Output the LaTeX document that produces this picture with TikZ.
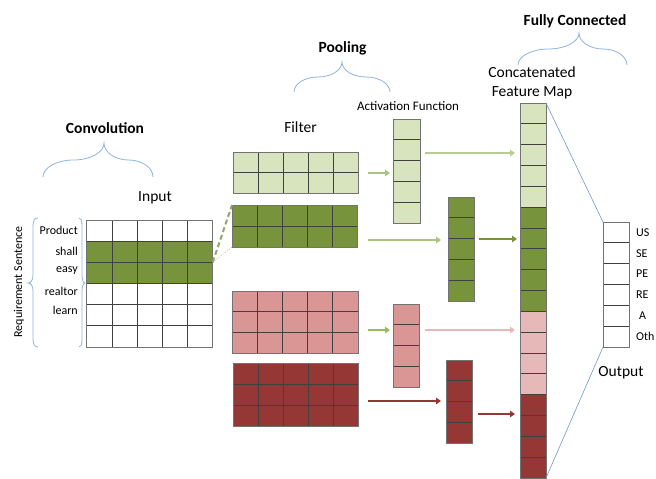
\documentclass[tikz,border=0pt]{standalone}
\usepackage{fontspec}
\setmainfont{Carlito}
\usetikzlibrary{calc,arrows.meta}
\definecolor{lg}{HTML}{D7E4BD}
\definecolor{dg}{HTML}{77933C}
\definecolor{pk}{HTML}{D99694}
\definecolor{lpk}{HTML}{E6B9B8}
\definecolor{dr}{HTML}{953735}
\definecolor{arg}{HTML}{A9C47F}
\definecolor{mg}{HTML}{9BBB59}
\definecolor{brcol}{HTML}{8DB3E2}
\definecolor{bln}{HTML}{6F97CD}
\tikzset{
  mat/.style={inner sep=0pt, outer sep=0pt, draw=none},
  innerln/.style={draw=black!75, line width=0.7pt},
  borderln/.style={draw=black!55, line width=0.8pt},
  brc/.style={draw=brcol, line width=0.8pt},
  head/.style={font=\fontsize{15.5}{18}\selectfont\bfseries},
  lbl/.style={font=\fontsize{15.5}{19.5}\selectfont, align=center},
  small/.style={font=\fontsize{12}{14}\selectfont, inner sep=0pt},
  arr/.style={line width=2pt, -{Triangle[length=5pt,width=6.5pt]}},
}
\newcommand\mgrid[3]{%
  \pgfmathtruncatemacro\mgc{#2-1}%
  \pgfmathtruncatemacro\mgr{#3-1}%
  \ifnum\mgc>0 \foreach \i in {1,...,\mgc}{\draw[innerln] ($(#1.north west)!\i/#2!(#1.north east)$) -- ($(#1.south west)!\i/#2!(#1.south east)$);}\fi
  \ifnum\mgr>0 \foreach \i in {1,...,\mgr}{\draw[innerln] ($(#1.north west)!\i/#3!(#1.south west)$) -- ($(#1.north east)!\i/#3!(#1.south east)$);}\fi
  \draw[borderln] (#1.north west) rectangle (#1.south east);
}
\newcommand\hbrace[5]{%
  \pgfmathsetmacro\hbym{(#4+#5)/2}%
  \pgfmathsetmacro\hbqa{(#1+#2)/2}%
  \pgfmathsetmacro\hbqb{(#2+#3)/2}%
  \draw[brc] (#1,#4) .. controls (#1,{#4-0.55*(#4-\hbym)}) and ({\hbqa-0.55*(\hbqa-#1)},\hbym) .. (\hbqa,\hbym)
    .. controls ({\hbqa+0.55*(#2-\hbqa)},\hbym) and (#2,{#5+0.55*(\hbym-#5)}) .. (#2,#5)
    .. controls (#2,{#5+0.55*(\hbym-#5)}) and ({\hbqb-0.55*(\hbqb-#2)},\hbym) .. (\hbqb,\hbym)
    .. controls ({\hbqb+0.55*(#3-\hbqb)},\hbym) and (#3,{#4-0.55*(#4-\hbym)}) .. (#3,#4);
}
\begin{document}
\begin{tikzpicture}[x=1pt,y=-1pt]
\useasboundingbox (0,0) rectangle (656,479);

% headings and braces
\node[head] (hconv) at (105,128) {Convolution};
\node[head] (hpool) at (342.5,48) {Pooling};
\node[head] (hfc) at (575,21) {Fully Connected};
\hbrace{43}{104}{153}{177}{143}
\hbrace{294}{342}{390}{92}{62}
\hbrace{518}{579}{627}{65}{33}

% labels
\node[lbl] (linput) at (155,198) {Input};
\node[lbl] (lfilter) at (300.5,127) {Filter};
\node[font=\fontsize{13}{15}\selectfont] (lact) at (408,106) {Activation Function};
\node[lbl] (lcfm) at (532,83) {Concatenated\\Feature Map};
\node[lbl] (lout) at (621,373) {Output};

% requirement sentence
\node[small, rotate=90] (lreq) at (19,282) {Requirement Sentence};
\draw[brc] (38,218) .. controls (35,218) and (33,220) .. (33,226) -- (33,275) .. controls (33,280) and (31,283) .. (28,283) .. controls (31,283) and (33,286) .. (33,291) -- (33,339) .. controls (33,345) and (35,347) .. (38,347);
\draw[brc] (79,218) .. controls (81,218) and (82,220) .. (82,226) -- (82,275) .. controls (82,280) and (83.5,283) .. (85,283) .. controls (83.5,283) and (82,286) .. (82,291) -- (82,339) .. controls (82,345) and (81,347) .. (79,347);
\node[small, anchor=east] (w1) at (78,230) {Product};
\node[small, anchor=east] (w2) at (78,251) {shall};
\node[small, anchor=east] (w3) at (78,271) {easy};
\node[small, anchor=east] (w4) at (78,291) {realtor};
\node[small, anchor=east] (w5) at (78,310) {learn};

% input grid
\node[mat, fill=white, minimum width=126pt, minimum height=127pt] (in) at (149.7,283.5) {};
\fill[dg] ($(in.north west)!1/6!(in.south west)$) rectangle ($(in.north east)!3/6!(in.south east)$);
\mgrid{in}{5}{6}

% filters
\node[mat, fill=lg, minimum width=125pt, minimum height=41pt] (f1) at (295.5,172.5) {};
\mgrid{f1}{5}{2}
\node[mat, fill=dg, minimum width=125pt, minimum height=42pt] (f2) at (294.5,226) {};
\mgrid{f2}{5}{2}
\node[mat, fill=pk, minimum width=126pt, minimum height=62pt] (f3) at (295,322) {};
\mgrid{f3}{5}{3}
\node[mat, fill=dr, minimum width=125pt, minimum height=63pt] (f4) at (295.5,394.5) {};
\mgrid{f4}{5}{3}

% input to filter
\coordinate (inp) at ($(in.north east)!2/6!(in.south east)$);
\draw[draw=dg!80, line width=2pt, dash pattern=on 5pt off 3pt] (inp) -- (f2.north west);
\draw[draw=dg, line width=0.6pt, dotted] (inp) -- (f2.south west);

% activation vectors
\node[mat, fill=lg, minimum width=27pt, minimum height=104pt] (a1) at (406.5,171) {};
\mgrid{a1}{1}{5}
\node[mat, fill=dg, minimum width=26pt, minimum height=104pt] (a2) at (461,249) {};
\mgrid{a2}{1}{5}
\node[mat, fill=pk, minimum width=26pt, minimum height=83pt] (a3) at (406,345.5) {};
\mgrid{a3}{1}{4}
\node[mat, fill=dr, minimum width=26pt, minimum height=83pt] (a4) at (459,401.5) {};
\mgrid{a4}{1}{4}

% concatenated feature map
\node[mat, fill=lg, minimum width=26pt, minimum height=375pt] (cfm) at (533,290.5) {};
\fill[dg] ($(cfm.north west)!5/18!(cfm.south west)$) rectangle ($(cfm.north east)!10/18!(cfm.south east)$);
\fill[lpk] ($(cfm.north west)!10/18!(cfm.south west)$) rectangle ($(cfm.north east)!14/18!(cfm.south east)$);
\fill[dr] ($(cfm.north west)!14/18!(cfm.south west)$) rectangle (cfm.south east);
\mgrid{cfm}{1}{18}

% output
\node[mat, fill=white, minimum width=26pt, minimum height=125pt] (out) at (616,284.5) {};
\mgrid{out}{1}{6}
\node[small, anchor=west] (o1) at (636,232.4) {US};
\node[small, anchor=west] (o2) at (636,253.2) {SE};
\node[small, anchor=west] (o3) at (636,274) {PE};
\node[small, anchor=west] (o4) at (636,294.9) {RE};
\node[small, anchor=west] (o5) at (639,315.7) {A};
\node[small, anchor=west] (o6) at (636,336.5) {Oth};

\draw[bln, line width=0.6pt] (cfm.north east) -- (out.north west);
\draw[bln, line width=0.6pt] (cfm.south east) -- (out.south west);

% arrows filter -> activation
\draw[arr, arg] ($(f1.east)+(10,0.5)$) -- ($(a1.west)+(-3,2)$);
\draw[arr, arg] ($(f2.east)+(11,14)$) -- ($(a2.west)+(-7,-9)$);
\draw[arr, mg] ($(f3.east)+(10,8)$) -- ($(a3.west)+(-3,-15.5)$);
\draw[arr, dr, line width=1.6pt] ($(f4.east)+(10,6.5)$) -- ($(a4.west)+(-5,-0.5)$);

% arrows activation -> cfm
\draw[arr, arg!85] ($(a1.east)+(5,-18)$) -- ($(cfm.west)+(-5,-137.5)$);
\draw[arr, dg] ($(a2.east)+(5,-10)$) -- ($(cfm.west)+(-3,-51.5)$);
\draw[arr, lpk] ($(a3.east)+(6,-15.5)$) -- ($(cfm.west)+(-5,39.5)$);
\draw[arr, dr, line width=1.6pt] ($(a4.east)+(6,12.5)$) -- ($(cfm.west)+(-5,123.5)$);
\end{tikzpicture}
\end{document}
